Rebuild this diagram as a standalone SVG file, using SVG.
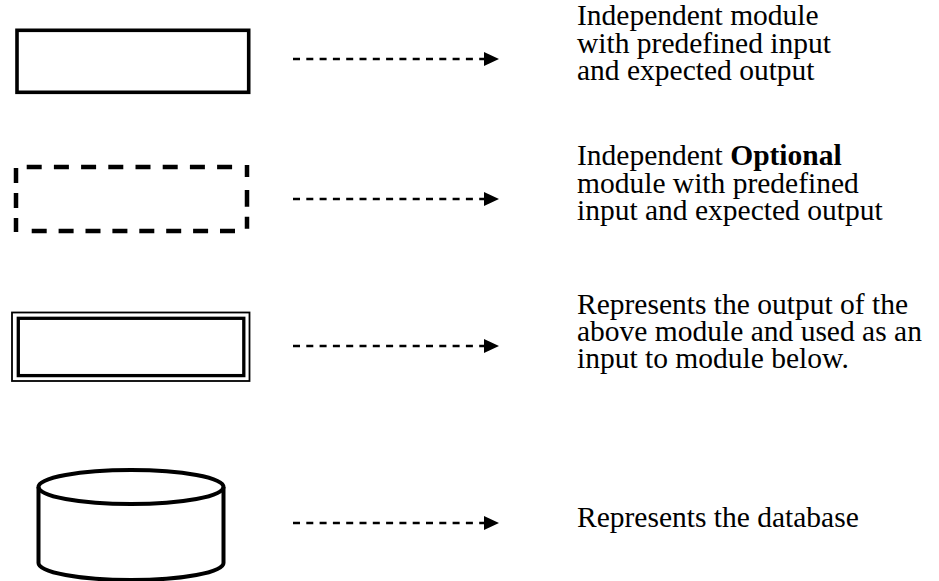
<svg xmlns="http://www.w3.org/2000/svg" width="939" height="581" viewBox="0 0 939 581">
  <style>
    .label { font-family: "Liberation Serif", "Times New Roman", serif; font-size: 29.5px; fill: #000; }
    .bold { font-weight: bold; }
    .edge { stroke: #000; fill: none; }
    .link { stroke: #000; stroke-width: 2.6; stroke-dasharray: 7 6.3; fill: none; }
  </style>
  <defs>
    <marker id="head" viewBox="0 0 15 14" refX="0" refY="7" markerWidth="15" markerHeight="14" markerUnits="userSpaceOnUse" orient="auto">
      <path d="M0,0 L15,7 L0,14 z" fill="#000"/>
    </marker>
  </defs>
  <rect width="939" height="581" fill="#fff"/>

  <!-- Legend symbols -->
  <g id="module">
    <rect class="edge" x="17" y="30.3" width="231.7" height="62" stroke-width="3.6"/>
  </g>

  <g id="optional-module" class="edge" stroke-width="4.5">
    <line x1="26.7" y1="167" x2="233" y2="167" stroke-dasharray="15 12.2"/>
    <line x1="31.7" y1="231" x2="236" y2="231" stroke-dasharray="15 11.9"/>
    <line x1="16" y1="168" x2="16" y2="232" stroke-dasharray="15 10"/>
    <line x1="247" y1="165" x2="247" y2="232" stroke-dasharray="12 13 16.7 10"/>
  </g>

  <g id="module-output">
    <rect class="edge" x="12" y="312.5" width="237.5" height="68.5" stroke-width="1.8"/>
    <rect class="edge" x="18.3" y="318.3" width="225.5" height="57.3" stroke-width="3.3"/>
  </g>

  <g id="database" class="edge" stroke-width="4">
    <path d="M38.5,487 L38.5,563 A92.5,17 0 0 0 223.5,563 L223.5,487" fill="#fff"/>
    <ellipse cx="131" cy="487" rx="92.5" ry="17"/>
  </g>

  <!-- Connectors -->
  <g id="connectors">
    <line class="link" x1="293" y1="59" x2="484" y2="59" marker-end="url(#head)"/>
    <line class="link" x1="293" y1="199" x2="484" y2="199" marker-end="url(#head)"/>
    <line class="link" x1="293" y1="346" x2="484" y2="346" marker-end="url(#head)"/>
    <line class="link" x1="293" y1="523" x2="484" y2="523" marker-end="url(#head)"/>
  </g>

  <!-- Descriptions -->
  <g id="desc-module">
    <text class="label" x="577" y="25">Independent module</text>
    <text class="label" x="577" y="52.5">with predefined input</text>
    <text class="label" x="577" y="80">and expected output</text>
  </g>
  <g id="desc-optional">
    <text class="label" x="577" y="165">Independent <tspan class="bold">Optional</tspan></text>
    <text class="label" x="577" y="192.5">module with predefined</text>
    <text class="label" x="577" y="220">input and expected output</text>
  </g>
  <g id="desc-output">
    <text class="label" x="577" y="313.5">Represents the output of the</text>
    <text class="label" x="577" y="341">above module and used as an</text>
    <text class="label" x="577" y="368">input to module below.</text>
  </g>
  <g id="desc-database">
    <text class="label" x="577" y="527">Represents the database</text>
  </g>
</svg>
